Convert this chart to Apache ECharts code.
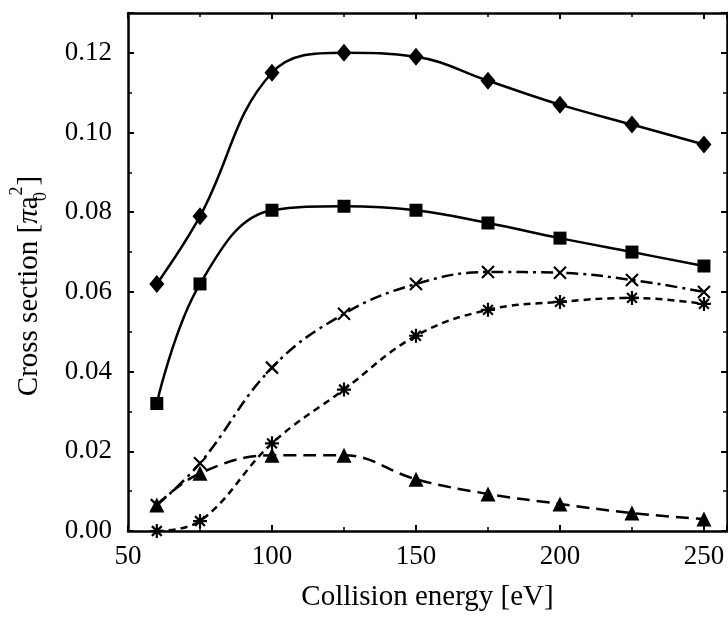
<!DOCTYPE html>
<html>
<head>
<meta charset="utf-8">
<script src="https://cdn.jsdelivr.net/npm/echarts@6/dist/echarts.min.js"></script>
<style>
  html, body { margin: 0; padding: 0; background: #fff; }
  #chart { width: 728px; height: 617px; }
</style>
</head>
<body>
<div id="chart"></div>
<script>
// 碰撞能量 (eV)
const energies = [60, 75, 100, 125, 150, 175, 200, 225, 250];

// 各曲线截面值 (πa0²)
const diamondValues  = [0.062, 0.079, 0.115, 0.120, 0.119, 0.113, 0.107, 0.102, 0.097];
const squareValues   = [0.032, 0.062, 0.0805, 0.0815, 0.0805, 0.0773, 0.0735, 0.070, 0.0665];
const crossValues    = [0.0065, 0.017, 0.041, 0.0545, 0.062, 0.065, 0.0648, 0.063, 0.060];
const asteriskValues = [0.000, 0.0025, 0.022, 0.0355, 0.049, 0.0555, 0.0575, 0.0585, 0.057];
const triangleValues = [0.0065, 0.0145, 0.019, 0.019, 0.013, 0.0093, 0.0068, 0.0045, 0.003];

const FONT = '"Liberation Serif", "DejaVu Serif", serif';
const BLACK = '#000';

const crossPath = 'path://M0,0 L10,10 M10,0 L0,10';
const asteriskPath = 'path://M5,0 L5,10 M0,5 L10,5 M1.5,1.5 L8.5,8.5 M8.5,1.5 L1.5,8.5';

const pairs = (vals) => energies.map((e, i) => [e, vals[i]]);

function makeSeries(name, vals, symbol, size, dash, symbolStroke) {
  return {
    name: name,
    type: 'line',
    data: pairs(vals),
    smooth: 0.4,
    symbol: symbol,
    symbolSize: size,
    lineStyle: { color: BLACK, width: 2.5, type: dash },
    itemStyle: symbolStroke
      ? { color: BLACK, borderColor: BLACK, borderWidth: 2.2 }
      : { color: BLACK, borderWidth: 0 },
    z: 3
  };
}

const chart = echarts.init(document.getElementById('chart'));

const axisCommon = {
  axisLine: { show: true, onZero: false, lineStyle: { color: BLACK, width: 2.5 } },
  axisTick: { show: true, inside: true, length: 6, lineStyle: { color: BLACK, width: 2 } },
  minorTick: { show: true, splitNumber: 2, length: 4, lineStyle: { color: BLACK, width: 1.5 } },
  splitLine: { show: false }
};

const option = {
  animation: false,
  grid: { left: 118, right: 1, top: 13, bottom: 77 },
  xAxis: [
    Object.assign({
      type: 'value', min: 50, max: 258, interval: 50, position: 'bottom',
      name: 'Collision energy [eV]', nameLocation: 'middle', nameGap: 52,
      nameTextStyle: { fontFamily: FONT, fontSize: 29, color: BLACK },
      axisLabel: {
        fontFamily: FONT, fontSize: 27, color: BLACK, margin: 12, showMaxLabel: false,
        formatter: (v) => (v % 50 === 0 ? String(v) : '')
      }
    }, axisCommon),
    Object.assign({
      type: 'value', min: 50, max: 258, interval: 50, position: 'top',
      axisLabel: { show: false }
    }, axisCommon)
  ],
  yAxis: [
    Object.assign({
      type: 'value', min: 0, max: 0.13, interval: 0.02, position: 'left',
      name: '{n|Cross section [}{i|π}{n|a}{sub|0}{sup|2}{n|]}',
      nameLocation: 'middle', nameRotate: 90, nameGap: 78,
      nameTextStyle: {
        fontFamily: FONT, fontSize: 29, color: BLACK,
        padding: [0, 28, 0, 0],
        rich: {
          n: { fontFamily: FONT, fontSize: 29, color: BLACK, lineHeight: 42, verticalAlign: 'middle' },
          i: { fontFamily: FONT, fontSize: 29, color: BLACK, fontStyle: 'italic', lineHeight: 42, verticalAlign: 'middle' },
          sub: { fontFamily: FONT, fontSize: 18, color: BLACK, width: 0, lineHeight: 42, verticalAlign: 'bottom' },
          sup: { fontFamily: FONT, fontSize: 18, color: BLACK, width: 11, lineHeight: 42, verticalAlign: 'top' }
        }
      },
      axisLabel: {
        fontFamily: FONT, fontSize: 27, color: BLACK, margin: 16, showMaxLabel: false,
        formatter: (v) => v.toFixed(2)
      }
    }, axisCommon),
    Object.assign({
      type: 'value', min: 0, max: 0.13, interval: 0.02, position: 'right',
      axisLabel: { show: false }
    }, axisCommon)
  ],
  series: [
    makeSeries('diamond', diamondValues, 'diamond', [15, 18], 'solid', false),
    makeSeries('square', squareValues, 'rect', 13, 'solid', false),
    makeSeries('cross', crossValues, crossPath, 12, [12, 5, 3, 5], true),
    makeSeries('asterisk', asteriskValues, asteriskPath, 14, [7, 5], true),
    makeSeries('triangle', triangleValues, 'triangle', 15, [13, 7], false)
  ]
};

chart.setOption(option);
window.addEventListener('resize', () => chart.resize());
</script>
</body>
</html>
